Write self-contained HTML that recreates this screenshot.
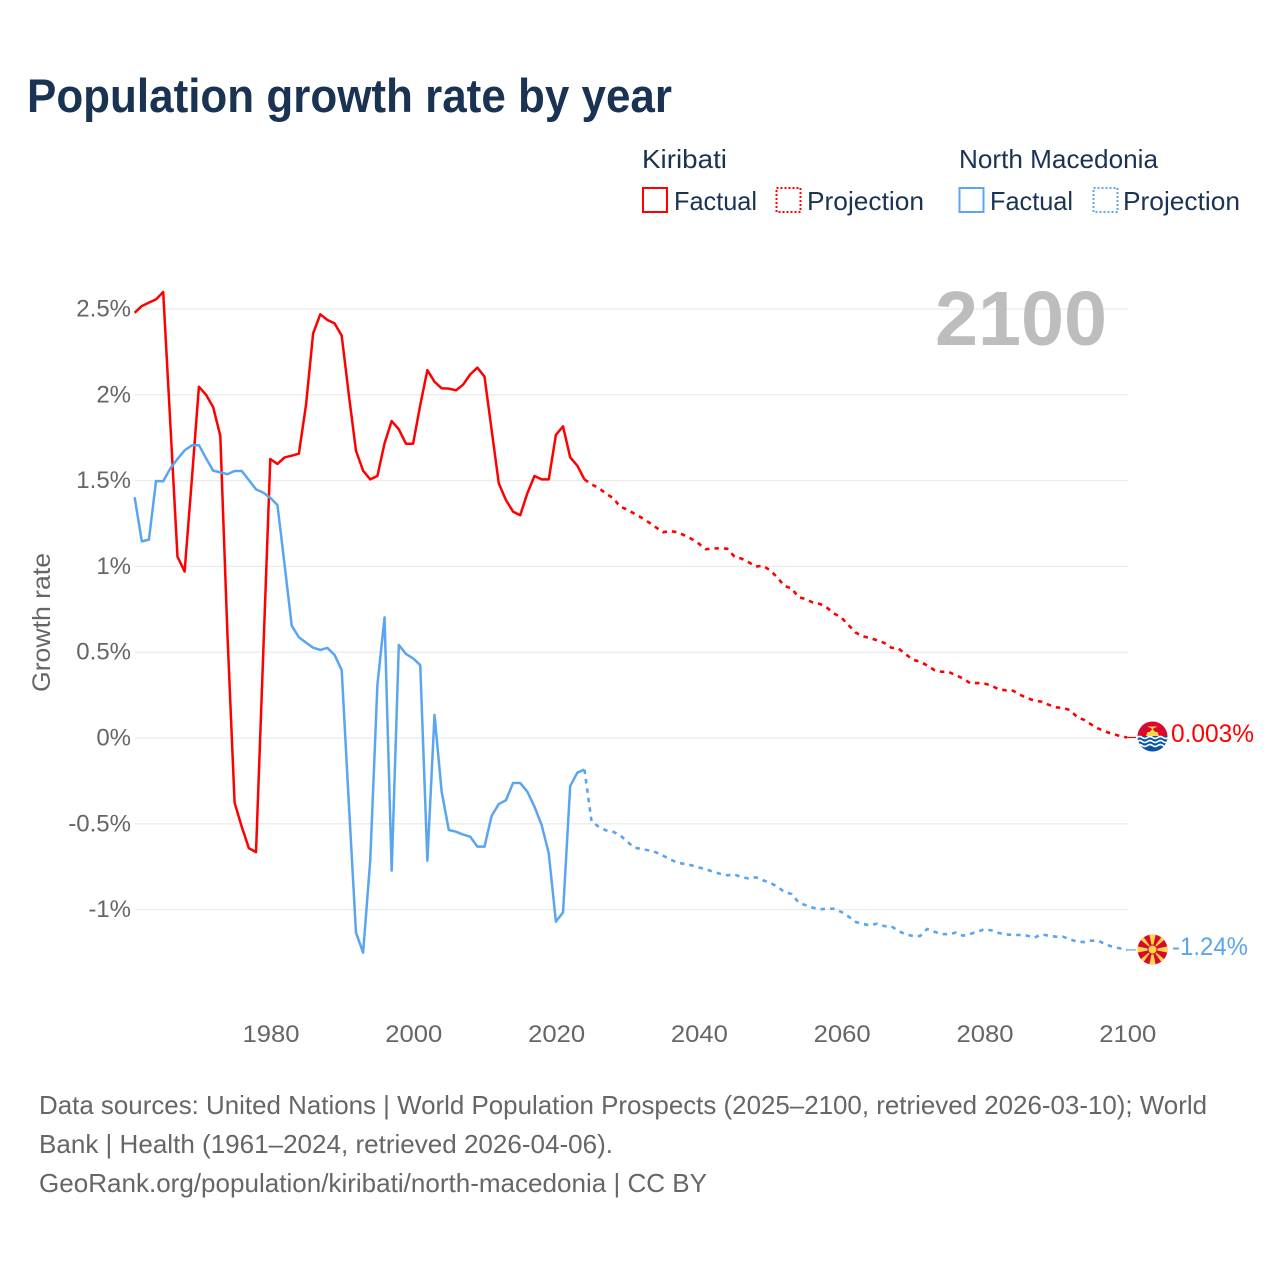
<!DOCTYPE html>
<html lang="en">
<head>
<meta charset="utf-8">
<title>Population growth rate by year</title>
<style>
  html, body { margin: 0; padding: 0; background: #fff; }
  svg { display: block; font-family: "Liberation Sans", sans-serif; }
</style>
</head>
<body>
<svg id="chart" xmlns="http://www.w3.org/2000/svg" width="1280" height="1280" viewBox="0 0 1280 1280">
  <defs>
    <clipPath id="flag-clip-ki"><circle cx="1152.5" cy="736.5" r="15"/></clipPath>
    <clipPath id="flag-clip-mk"><circle cx="1152.5" cy="949.5" r="15"/></clipPath>
  </defs>
  <rect width="1280" height="1280" fill="#fff"/>

  <text x="27" y="112" font-size="47" font-weight="700" fill="#1a3353" textLength="645" lengthAdjust="spacingAndGlyphs">Population growth rate by year</text>

  <g font-size="26" fill="#1a3353">
    <text x="642" y="168" textLength="85" lengthAdjust="spacingAndGlyphs">Kiribati</text>
    <text x="959" y="168" textLength="199" lengthAdjust="spacingAndGlyphs">North Macedonia</text>
    <rect x="643" y="188" width="24" height="24" fill="none" stroke="#ff0000" stroke-width="2"/>
    <text x="674" y="210" textLength="83" lengthAdjust="spacingAndGlyphs">Factual</text>
    <rect x="776.500" y="188" width="24" height="24" fill="none" stroke="#ff0000" stroke-width="2" stroke-dasharray="2 2"/>
    <text x="807" y="210" textLength="117" lengthAdjust="spacingAndGlyphs">Projection</text>
    <rect x="959.500" y="188" width="24" height="24" fill="none" stroke="#5aa5ef" stroke-width="2"/>
    <text x="990" y="210" textLength="83" lengthAdjust="spacingAndGlyphs">Factual</text>
    <rect x="1093.500" y="188" width="24" height="24" fill="none" stroke="#5aa5ef" stroke-width="2" stroke-dasharray="2 2"/>
    <text x="1123" y="210" textLength="117" lengthAdjust="spacingAndGlyphs">Projection</text>
  </g>

  <g id="grid"></g>

  <text x="935" y="345" font-size="77" font-weight="700" fill="#bdbdbd" textLength="172" lengthAdjust="spacingAndGlyphs">2100</text>

  <text transform="translate(50 692) rotate(-90)" font-size="25" fill="#666" textLength="139" lengthAdjust="spacingAndGlyphs">Growth rate</text>

  <g id="y-ticks" font-size="24" fill="#666" text-anchor="end"></g>
  <g id="x-ticks" font-size="24" fill="#666" text-anchor="middle"></g>

  <g id="series" fill="none" stroke-linejoin="round"></g>

  <g>
    <g clip-path="url(#flag-clip-ki)">
      <rect x="1137" y="721" width="31" height="16" fill="#d9082f"/>
      <rect x="1137" y="736" width="31" height="17" fill="#0a54a8"/>
      <path d="M1137 737.500q2.600 -2 5.200 0t5.200 0t5.200 0t5.200 0t5.200 0t5.200 0M1137 741.500q2.600 -2 5.200 0t5.200 0t5.200 0t5.200 0t5.200 0t5.200 0M1137 745.500q2.600 -2 5.200 0t5.200 0t5.200 0t5.200 0t5.200 0t5.200 0" fill="none" stroke="#fff" stroke-width="1.600"/>
      <path d="M1146 736l1.500 -4h2l3 -3l3 3h2l1.500 4z" fill="#ffd64a"/>
      <path d="M1147 726.500h11l-4 1.500l-1.500 2l-1.500 -2z" fill="#ffd64a"/>
    </g>
  </g>
  <g>
    <g clip-path="url(#flag-clip-mk)">
      <rect x="1137" y="934" width="31" height="31" fill="#d9082f"/>
      <path d="M1152.500 949.500L1149 933h7zM1152.500 949.500L1149 966h7zM1152.500 949.500L1136 946v7zM1152.500 949.500L1169 946v7zM1152.500 949.500L1136 936l4 -4zM1152.500 949.500L1169 936l-4 -4zM1152.500 949.500L1136 963l4 4zM1152.500 949.500L1169 963l-4 4z" fill="#ffd64a"/>
      <circle cx="1152.500" cy="949.500" r="5" fill="#d9082f"/>
      <circle cx="1152.500" cy="949.500" r="4" fill="#ffd64a"/>
    </g>
  </g>

  <text x="1171" y="742" font-size="25" fill="#ff0000" textLength="83" lengthAdjust="spacingAndGlyphs">0.003%</text>
  <text x="1172" y="955" font-size="25" fill="#5aa5ef" textLength="76" lengthAdjust="spacingAndGlyphs">-1.24%</text>

  <g font-size="26" fill="#666">
    <text x="39" y="1114" textLength="1168" lengthAdjust="spacingAndGlyphs">Data sources: United Nations | World Population Prospects (2025–2100, retrieved 2026-03-10); World</text>
    <text x="39" y="1153" textLength="574" lengthAdjust="spacingAndGlyphs">Bank | Health (1961–2024, retrieved 2026-04-06).</text>
    <text x="39" y="1192" textLength="668" lengthAdjust="spacingAndGlyphs">GeoRank.org/population/kiribati/north-macedonia | CC BY</text>
  </g>
</svg>

<script>
const yTickValues = [-1, -0.5, 0, 0.5, 1, 1.5, 2, 2.5];
const yTickLabels = ["-1%", "-0.5%", "0%", "0.5%", "1%", "1.5%", "2%", "2.5%"];
const xTickValues = [1980, 2000, 2020, 2040, 2060, 2080, 2100];
const xTickLabels = ["1980", "2000", "2020", "2040", "2060", "2080", "2100"];
const factualStartYear = 1961;
const projectionStartYear = 2024;

const kiribatiFactual = [2.478, 2.517, 2.537, 2.556, 2.599, 1.83, 1.057, 0.97, 1.5, 2.047,
  2.0, 1.928, 1.76, 0.6, -0.377, -0.517, -0.642, -0.665, 0.48, 1.626,
  1.597, 1.635, 1.645, 1.657, 1.94, 2.358, 2.469, 2.436, 2.416, 2.345,
  2.0, 1.674, 1.558, 1.507, 1.527, 1.717, 1.847, 1.799, 1.715, 1.715,
  1.94, 2.144, 2.076, 2.038, 2.036, 2.026, 2.059, 2.119, 2.158, 2.106,
  1.795, 1.484, 1.387, 1.319, 1.298, 1.426, 1.527, 1.507, 1.507, 1.766,
  1.816, 1.636, 1.587, 1.507];

const kiribatiProjection = [1.507, 1.478, 1.457, 1.424, 1.399, 1.348, 1.331, 1.307, 1.284, 1.257,
  1.228, 1.199, 1.206, 1.199, 1.181, 1.160, 1.133, 1.100, 1.105, 1.105,
  1.103, 1.057, 1.045, 1.024, 0.999, 1.004, 0.977, 0.936, 0.886, 0.872,
  0.820, 0.810, 0.789, 0.781, 0.758, 0.725, 0.701, 0.657, 0.614, 0.592,
  0.583, 0.569, 0.554, 0.526, 0.521, 0.488, 0.456, 0.445, 0.423, 0.396,
  0.386, 0.386, 0.365, 0.348, 0.320, 0.320, 0.318, 0.305, 0.284, 0.278,
  0.276, 0.252, 0.233, 0.218, 0.212, 0.194, 0.179, 0.175, 0.163, 0.122,
  0.105, 0.078, 0.054, 0.037, 0.023, 0.012, 0.003];

const macedoniaFactual = [1.403, 1.146, 1.156, 1.498, 1.496, 1.571, 1.626, 1.676, 1.705, 1.707,
  1.630, 1.558, 1.548, 1.537, 1.556, 1.556, 1.503, 1.449, 1.430, 1.400,
  1.358, 1.01, 0.655, 0.587, 0.556, 0.526, 0.513, 0.525, 0.484, 0.396,
  -0.381, -1.134, -1.251, -0.711, 0.309, 0.703, -0.773, 0.542, 0.490, 0.464,
  0.425, -0.715, 0.134, -0.313, -0.536, -0.546, -0.563, -0.575, -0.633, -0.633,
  -0.453, -0.385, -0.363, -0.262, -0.262, -0.313, -0.400, -0.507, -0.672, -1.070,
  -1.016, -0.280, -0.202, -0.184];

const macedoniaProjection = [-0.184, -0.488, -0.517, -0.538, -0.546, -0.567, -0.604, -0.639, -0.647, -0.655,
  -0.666, -0.686, -0.707, -0.727, -0.734, -0.742, -0.754, -0.765, -0.779, -0.791,
  -0.800, -0.795, -0.812, -0.818, -0.812, -0.829, -0.843, -0.866, -0.897, -0.909,
  -0.958, -0.975, -0.989, -0.998, -0.995, -0.995, -1.014, -1.041, -1.072, -1.084,
  -1.092, -1.082, -1.096, -1.098, -1.125, -1.144, -1.154, -1.154, -1.113, -1.129,
  -1.142, -1.144, -1.134, -1.152, -1.142, -1.129, -1.115, -1.121, -1.136, -1.144,
  -1.148, -1.148, -1.152, -1.164, -1.144, -1.152, -1.158, -1.158, -1.173, -1.187,
  -1.189, -1.181, -1.181, -1.204, -1.216, -1.226, -1.235];

const SVG_NS = "http://www.w3.org/2000/svg";

function xScale(year) {
  return 270.3 + (year - 1980) * 7.14;
}
function yScale(value) {
  return 738 - value * 171.6;
}
function pointsFor(values, startYear) {
  return values.map(function (v, i) {
    return xScale(startYear + i).toFixed(2) + "," + yScale(v).toFixed(2);
  }).join(" ");
}

const gridGroup = document.getElementById("grid");
const yTickGroup = document.getElementById("y-ticks");
const xTickGroup = document.getElementById("x-ticks");
const seriesGroup = document.getElementById("series");

yTickValues.forEach(function (value, i) {
  const line = document.createElementNS(SVG_NS, "line");
  
  
  line.setAttribute("x1", 135);
  line.setAttribute("x2", 1128);
  line.setAttribute("y1", yScale(value));
  line.setAttribute("y2", yScale(value));
  line.setAttribute("stroke", "#ebebeb");
  line.setAttribute("stroke-width", 1.3);
  gridGroup.appendChild(line);

  const label = document.createElementNS(SVG_NS, "text");
  
  
  label.setAttribute("x", 131);
  label.setAttribute("y", yScale(value) + 7.5);
  label.textContent = yTickLabels[i];
  yTickGroup.appendChild(label);
});

xTickValues.forEach(function (year, i) {
  const label = document.createElementNS(SVG_NS, "text");
  
  
  label.setAttribute("x", xScale(year) + 0.7);
  label.setAttribute("y", 1042);
  label.setAttribute("textLength", 57);
  label.setAttribute("lengthAdjust", "spacingAndGlyphs");
  label.textContent = xTickLabels[i];
  xTickGroup.appendChild(label);
});

function drawLine(values, startYear, color, dashed) {
  const line = document.createElementNS(SVG_NS, "polyline");
  line.setAttribute("points", pointsFor(values, startYear));
  line.setAttribute("stroke", color);
  line.setAttribute("stroke-width", dashed ? 2.6 : 2.5);
  if (dashed) {
    line.setAttribute("stroke-dasharray", "4.5 5");
  }
  seriesGroup.appendChild(line);
  return line;
}

function drawLeader(value, color) {
  const leader = document.createElementNS(SVG_NS, "line");
  
  
  leader.setAttribute("x1", xScale(2100));
  leader.setAttribute("x2", xScale(2100) + 9);
  leader.setAttribute("y1", yScale(value));
  leader.setAttribute("y2", yScale(value));
  leader.setAttribute("stroke", color);
  leader.setAttribute("stroke-width", 1.2);
  seriesGroup.appendChild(leader);
}

const kiribatiFactualLine = drawLine(kiribatiFactual, factualStartYear, "#ff0000", false);



const kiribatiProjectionLine = drawLine(kiribatiProjection, projectionStartYear, "#ff0000", true);



const macedoniaFactualLine = drawLine(macedoniaFactual, factualStartYear, "#5aa5ef", false);



const macedoniaProjectionLine = drawLine(macedoniaProjection, projectionStartYear, "#5aa5ef", true);



drawLeader(kiribatiProjection[kiribatiProjection.length - 1], "#ff0000");
drawLeader(macedoniaProjection[macedoniaProjection.length - 1], "#5aa5ef");
</script>
</body>
</html>
